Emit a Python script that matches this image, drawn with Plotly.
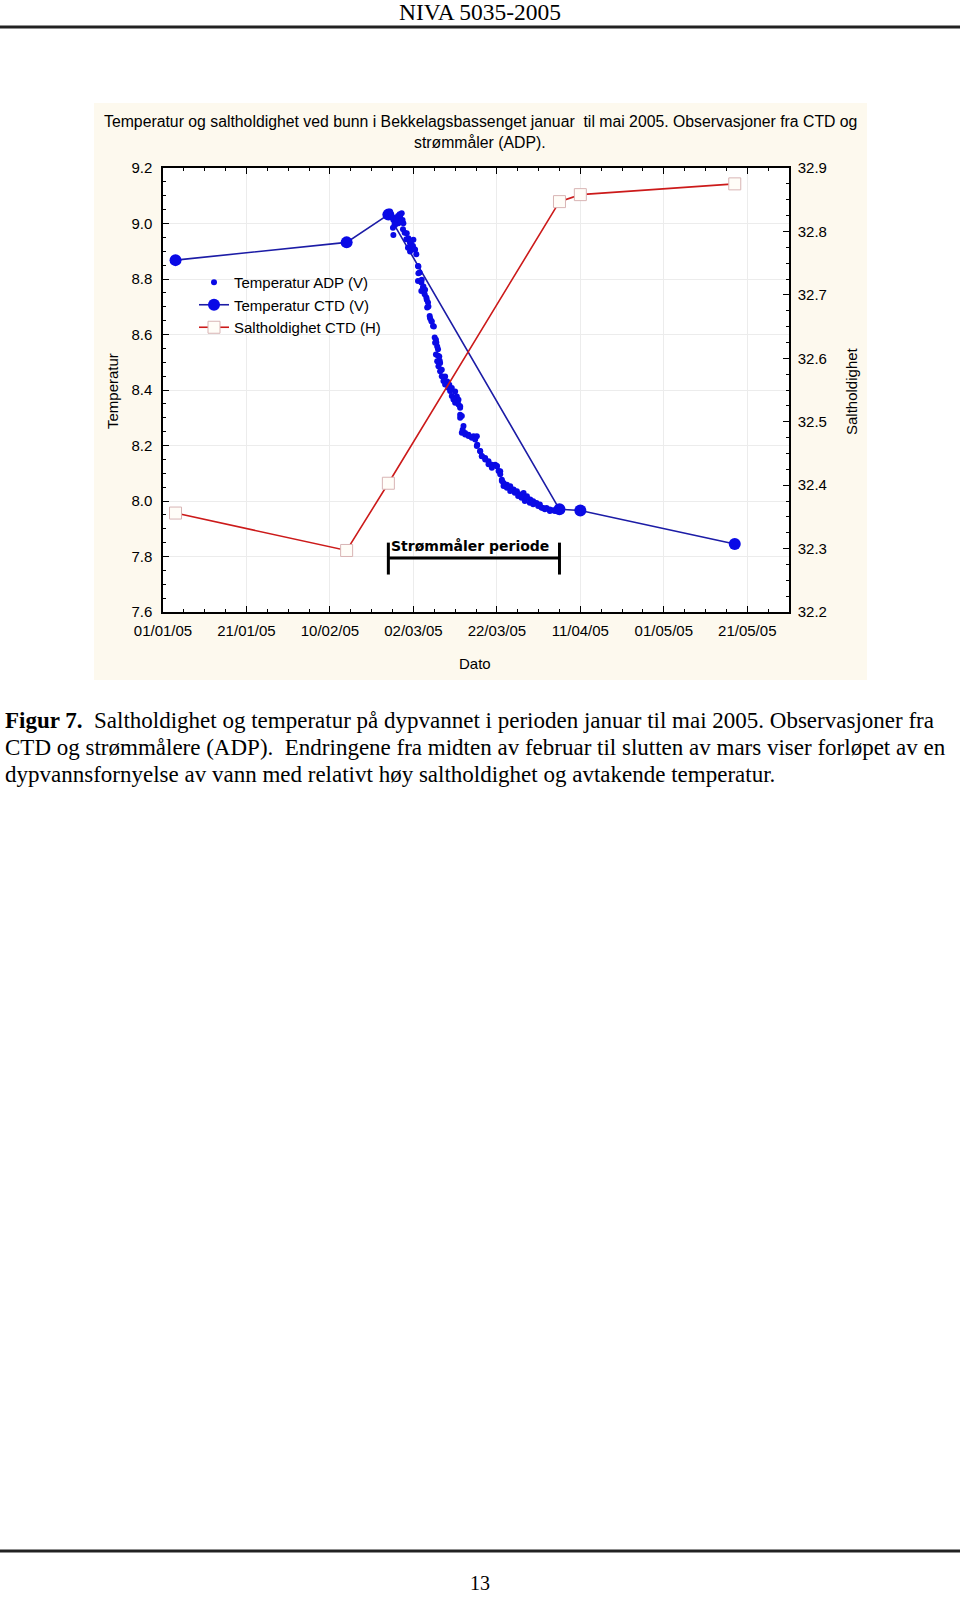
import pandas as pd
import plotly.graph_objects as go

# ---------------- data ----------------
CTD_DATES = ["2005-01-04", "2005-02-14", "2005-02-24", "2005-04-06", "2005-04-11", "2005-05-18"]
CTD_TEMP = [8.868, 8.932, 9.032, 7.970, 7.966, 7.845]
CTD_SAL = [32.356, 32.297, 32.403, 32.847, 32.858, 32.875]

# ADP bottom temperature, days after 2005-01-01
ADP_DAY = [
    53.6, 54.4, 54.8, 55.2, 55.6, 56.0, 56.4, 56.8, 57.2, 57.4, 55.2, 55.6, 57.6, 58.4, 58.8,
    59.2, 59.6, 60.0, 60.4, 59.2,
    55.1, 55.9, 56.3, 56.7, 57.1, 55.5, 55.1, 57.5, 57.9, 58.3, 59.1, 59.5, 58.7, 59.9, 60.3,
    60.7, 61.1, 61.5, 61.1, 61.9, 62.3, 61.9, 62.7, 63.1, 63.5, 63.3, 63.9, 64.3, 64.7, 65.1,
    65.5, 65.9, 65.9, 66.3,
    61.2, 61.2, 62.0, 62.4, 62.8, 63.2, 63.6, 64.0, 64.4, 64.9, 65.4, 65.7, 66.2, 66.4, 66.8,
    67.6, 68.1, 68.6, 69.2, 70.0, 70.4, 70.8, 71.2, 71.2, 71.8, 72.4, 73.2, 74.4, 75.2, 75.3,
    76.0, 76.4, 77.2, 78.0, 78.8, 79.6, 80.0, 80.8, 81.2, 81.6, 82.4, 83.2, 84.0, 84.8, 85.6,
    86.4, 87.2, 88.0, 88.7, 89.5, 90.3, 91.1, 91.9, 92.7, 93.5, 94.3,
    65.2, 65.4, 65.7, 66.0, 66.4, 66.8, 67.2, 67.6, 68.4, 68.8, 69.2, 69.6, 70.0, 70.8, 71.2,
    71.6, 71.2, 72.0, 71.6, 72.4, 73.2, 74.0, 74.8, 75.2, 76.0, 76.4, 77.2, 78.0, 78.8, 80.0,
    80.4, 80.8, 81.2, 81.6, 82.4, 83.2, 84.3, 85.1, 85.9, 86.7, 87.1, 87.9, 88.7, 89.9, 90.7,
    91.5, 92.7, 93.9, 94.7,
]
ADP_TEMP = [
    9.037, 9.043, 9.025, 9.013, 9.019, 9.007, 9.001, 9.025, 9.037, 9.013, 8.959, 8.995, 9.001, 8.965, 8.947,
    8.929, 8.917, 8.941, 8.905, 8.899,
    9.021, 9.015, 9.027, 9.033, 9.009, 8.997, 8.985, 8.979, 8.967, 8.943, 8.937, 8.925, 8.913, 8.919, 8.907,
    8.889, 8.847, 8.823, 8.793, 8.787, 8.769, 8.757, 8.745, 8.733, 8.715, 8.697, 8.667, 8.649, 8.631, 8.589,
    8.571, 8.547, 8.523, 8.505,
    8.845, 8.821, 8.797, 8.773, 8.761, 8.725, 8.701, 8.659, 8.647, 8.629, 8.581, 8.557, 8.521, 8.497, 8.473,
    8.449, 8.431, 8.419, 8.407, 8.395, 8.377, 8.365, 8.341, 8.311, 8.257, 8.245, 8.239, 8.233, 8.233, 8.203,
    8.179, 8.161, 8.155, 8.143, 8.131, 8.131, 8.125, 8.107, 8.077, 8.065, 8.059, 8.053, 8.041, 8.035, 8.023,
    8.029, 8.017, 8.005, 7.999, 7.993, 7.987, 7.975, 7.975, 7.969, 7.967, 7.967,
    8.570, 8.528, 8.504, 8.486, 8.468, 8.450, 8.432, 8.420, 8.408, 8.396, 8.378, 8.366, 8.354, 8.348, 8.336,
    8.306, 8.300, 8.270, 8.246, 8.240, 8.234, 8.228, 8.222, 8.198, 8.180, 8.162, 8.150, 8.132, 8.120, 8.126,
    8.108, 8.096, 8.072, 8.054, 8.048, 8.036, 8.030, 8.018, 8.012, 8.000, 8.012, 7.994, 7.988, 7.982, 7.976,
    7.970, 7.964, 7.964, 7.966,
]

X_RANGE = ["2005-01-01", "2005-05-31"]
TEMP_RANGE = [7.6, 9.2]
SAL_RANGE = [32.2, 32.9]
PERIOD = ["2005-02-24", "2005-04-06"]
PERIOD_LABEL = "Strømmåler periode"

TITLE_1 = "Temperatur og saltholdighet ved bunn i Bekkelagsbassenget januar  til mai 2005. Observasjoner fra CTD og"
TITLE_2 = "strømmåler (ADP)."
CAPTION = [
    "<b>Figur 7.</b>  Saltholdighet og temperatur på dypvannet i perioden januar til mai 2005. Observasjoner fra",
    "CTD og strømmålere (ADP).  Endringene fra midten av februar til slutten av mars viser forløpet av en",
    "dypvannsfornyelse av vann med relativt høy saltholdighet og avtakende temperatur.",
]
HEADER = "NIVA 5035-2005"
PAGE_NO = "13"

# ---------------- layout helpers ----------------
W, H = 960, 1597


def px(x):
    return x / W


def py(y):
    return 1 - y / H


SANS = "Liberation Sans, Arial, sans-serif"
SERIF = "Liberation Serif, Times New Roman, serif"
BLUE = "#0a0ae6"
BLUE_LINE = "#1c1ca6"
RED = "#cc1a1a"
CREAM = "#fdf9ee"

PLOT_L, PLOT_R, PLOT_T, PLOT_B = 163, 789, 168, 612

base = pd.Timestamp("2005-01-01")
adp_dates = [base + pd.Timedelta(days=d) for d in ADP_DAY]

fig = go.Figure()

fig.add_trace(go.Scatter(
    x=CTD_DATES, y=CTD_SAL, yaxis="y2", mode="lines+markers",
    name="Saltholdighet CTD (H)", legendrank=3,
    line=dict(color=RED, width=1.6),
    marker=dict(symbol="square", size=12, color="#fffdf8", line=dict(color="#d8b4b4", width=1)),
))
fig.add_trace(go.Scatter(
    x=CTD_DATES, y=CTD_TEMP, mode="lines+markers",
    name="Temperatur CTD (V)", legendrank=2,
    line=dict(color=BLUE_LINE, width=1.6),
    marker=dict(symbol="circle", size=12, color=BLUE),
))
fig.add_trace(go.Scatter(
    x=adp_dates, y=ADP_TEMP, mode="markers",
    name="Temperatur ADP (V)", legendrank=1,
    marker=dict(symbol="circle", size=6, color=BLUE),
))

DAY_MS = 86400000
axis_common = dict(
    showline=True, linecolor="black", linewidth=1.5,
    ticks="inside", ticklen=6, tickcolor="black", tickwidth=1,
    tickfont=dict(family=SANS, size=15, color="black"),
    zeroline=False, automargin=False,
)

fig.update_layout(
    width=W, height=H,
    margin=dict(l=0, r=0, t=0, b=0),
    paper_bgcolor="white", plot_bgcolor="white",
    template="none",
    showlegend=True,
    legend=dict(
        x=px(194), y=py(266), xanchor="left", yanchor="top",
        bgcolor="rgba(0,0,0,0)", borderwidth=0,
        font=dict(family=SANS, size=15, color="black"),
        tracegroupgap=0,
    ),
    xaxis=dict(
        type="date", range=X_RANGE, domain=[px(PLOT_L), px(PLOT_R)],
        tick0="2005-01-01", dtick=20 * DAY_MS, tickformat="%d/%m/%y",
        mirror="ticks", showgrid=True, gridcolor="#ececec", gridwidth=1,
        minor=dict(dtick=5 * DAY_MS, tick0="2005-01-01", ticks="inside", ticklen=3,
                   tickcolor="black", showgrid=False),
        ticklabelstandoff=4,
        **axis_common,
    ),
    yaxis=dict(
        range=TEMP_RANGE, domain=[py(PLOT_B), py(PLOT_T)],
        dtick=0.2, tick0=7.6, tickformat=".1f",
        showgrid=True, gridcolor="#ececec", gridwidth=1, mirror=False,
        minor=dict(dtick=0.05, ticks="inside", ticklen=3, tickcolor="black", showgrid=False),
        ticklabelstandoff=6,
        **axis_common,
    ),
    yaxis2=dict(
        range=SAL_RANGE, overlaying="y", side="right", anchor="x",
        dtick=0.1, tick0=32.2, tickformat=".1f", showgrid=False,
        minor=dict(dtick=0.025, ticks="inside", ticklen=3, tickcolor="black", showgrid=False),
        ticklabelstandoff=4,
        **axis_common,
    ),
)

shapes = [
    # cream chart panel
    dict(type="rect", xref="paper", yref="paper", x0=px(94), x1=px(867), y0=py(680), y1=py(103),
         fillcolor=CREAM, line=dict(width=0), layer="below"),
    # white plotting area
    dict(type="rect", xref="paper", yref="paper", x0=px(PLOT_L), x1=px(PLOT_R), y0=py(PLOT_B), y1=py(PLOT_T),
         fillcolor="white", line=dict(width=0), layer="below"),
    # header and footer rules
    dict(type="line", xref="paper", yref="paper", x0=0, x1=1, y0=py(27), y1=py(27),
         line=dict(color="#222222", width=3)),
    dict(type="line", xref="paper", yref="paper", x0=0, x1=1, y0=py(1551), y1=py(1551),
         line=dict(color="#222222", width=3)),
    # measurement period bracket
    dict(type="line", xref="x", yref="y", x0=PERIOD[0], x1=PERIOD[1], y0=7.795, y1=7.795,
         line=dict(color="black", width=3)),
    dict(type="line", xref="x", yref="y", x0=PERIOD[0], x1=PERIOD[0], y0=7.735, y1=7.85,
         line=dict(color="black", width=3)),
    dict(type="line", xref="x", yref="y", x0=PERIOD[1], x1=PERIOD[1], y0=7.735, y1=7.85,
         line=dict(color="black", width=3)),
]
fig.update_layout(shapes=shapes)

ann = []
ann.append(dict(text=HEADER, x=px(480), y=py(12), xref="paper", yref="paper", showarrow=False,
                xanchor="center", yanchor="middle", font=dict(family=SERIF, size=23.5, color="black")))
ann.append(dict(text=TITLE_1, x=px(480), y=py(122), xref="paper", yref="paper", showarrow=False,
                xanchor="center", yanchor="middle", font=dict(family=SANS, size=15.8, color="black")))
ann.append(dict(text=TITLE_2, x=px(480), y=py(143), xref="paper", yref="paper", showarrow=False,
                xanchor="center", yanchor="middle", font=dict(family=SANS, size=15.8, color="black")))
ann.append(dict(text="Temperatur", x=px(112), y=py(391), xref="paper", yref="paper", showarrow=False,
                textangle=-90, xanchor="center", yanchor="middle",
                font=dict(family=SANS, size=15, color="black")))
ann.append(dict(text="Saltholdighet", x=px(851), y=py(391), xref="paper", yref="paper", showarrow=False,
                textangle=-90, xanchor="center", yanchor="middle",
                font=dict(family=SANS, size=15, color="black")))
ann.append(dict(text="Dato", x=px(475), y=py(663), xref="paper", yref="paper", showarrow=False,
                xanchor="center", yanchor="middle", font=dict(family=SANS, size=15, color="black")))
ann.append(dict(text="<b>" + PERIOD_LABEL + "</b>", x=PERIOD[0], y=7.838, xref="x", yref="y",
                showarrow=False, xanchor="left", yanchor="middle", xshift=1,
                font=dict(family="DejaVu Sans, sans-serif", size=14, color="black")))
for i, line in enumerate(CAPTION):
    ann.append(dict(text=line, x=px(3), y=py(721 + 26.5 * i), xref="paper", yref="paper",
                    showarrow=False, xanchor="left", yanchor="middle",
                    font=dict(family=SERIF, size=23, color="black")))
ann.append(dict(text=PAGE_NO, x=px(480), y=py(1583), xref="paper", yref="paper", showarrow=False,
                xanchor="center", yanchor="middle", font=dict(family=SERIF, size=20, color="black")))
fig.update_layout(annotations=ann)

fig.write_html("out.html")
